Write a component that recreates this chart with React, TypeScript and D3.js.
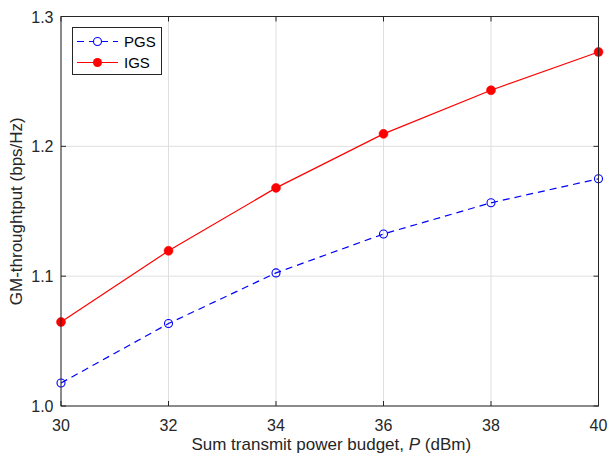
import React from "react";
import * as d3 from "d3";

const powerBudget = [30, 32, 34, 36, 38, 40];
const pgsThroughput = [1.0177, 1.0635, 1.1025, 1.1325, 1.1565, 1.175];
const igsThroughput = [1.0647, 1.1195, 1.168, 1.2096, 1.2432, 1.2727];
const xTicks = [30, 32, 34, 36, 38, 40];
const yTicks = [1.0, 1.1, 1.2, 1.3];

const W = 609;
const H = 459;
const M = { left: 61, right: 10.5, top: 16.5, bottom: 53 };
const FONT = "Liberation Sans, Arial, Helvetica, sans-serif";
const AXIS = "#262626";

export default function App() {
  const x = d3.scaleLinear().domain([30, 40]).range([M.left, W - M.right]);
  const y = d3.scaleLinear().domain([1.0, 1.3]).range([H - M.bottom, M.top]);
  const line = d3
    .line<[number, number]>()
    .x((d) => x(d[0]))
    .y((d) => y(d[1]));
  const pgs = powerBudget.map((p, i) => [p, pgsThroughput[i]] as [number, number]);
  const igs = powerBudget.map((p, i) => [p, igsThroughput[i]] as [number, number]);
  const x0 = x(30), x1 = x(40), y0 = y(1.0), y1 = y(1.3);

  return (
    <svg width={W} height={H} style={{ position: "absolute", left: 0, top: 0, background: "#fff" }} fontFamily={FONT}>
      <rect x={0} y={0} width={W} height={H} fill="#fff" />
      {/* grid */}
      {xTicks.map((t) => (
        <line key={"gx" + t} x1={x(t)} x2={x(t)} y1={y0} y2={y1} stroke="#dfdfdf" strokeWidth={1} />
      ))}
      {yTicks.map((t) => (
        <line key={"gy" + t} x1={x0} x2={x1} y1={y(t)} y2={y(t)} stroke="#dfdfdf" strokeWidth={1} />
      ))}
      {/* series */}
      <path d={line(pgs) || ""} fill="none" stroke="#0000ff" strokeWidth={1.2} strokeDasharray="7,5" />
      <path d={line(igs) || ""} fill="none" stroke="#ff0000" strokeWidth={1.2} />
      {pgs.map((d, i) => (
        <circle key={"p" + i} cx={x(d[0])} cy={y(d[1])} r={4} fill="none" stroke="#0000ff" strokeWidth={1.1} />
      ))}
      {igs.map((d, i) => (
        <circle key={"i" + i} cx={x(d[0])} cy={y(d[1])} r={4.5} fill="#ff0000" stroke="#ff0000" strokeWidth={0.5} />
      ))}
      {/* axes box */}
      <rect x={x0} y={y1} width={x1 - x0} height={y0 - y1} fill="none" stroke={AXIS} strokeWidth={1} />
      {xTicks.map((t) => (
        <g key={"tx" + t}>
          <line x1={x(t)} x2={x(t)} y1={y0} y2={y0 - 5} stroke={AXIS} />
          <line x1={x(t)} x2={x(t)} y1={y1} y2={y1 + 5} stroke={AXIS} />
          <text x={x(t)} y={y0 + 25} textAnchor="middle" fontSize={16} fill={AXIS}>
            {t}
          </text>
        </g>
      ))}
      {yTicks.map((t) => (
        <g key={"ty" + t}>
          <line x1={x0} x2={x0 + 5} y1={y(t)} y2={y(t)} stroke={AXIS} />
          <line x1={x1} x2={x1 - 5} y1={y(t)} y2={y(t)} stroke={AXIS} />
          <text x={x0 - 7.5} y={y(t) + 6} textAnchor="end" fontSize={16} fill={AXIS}>
            {t.toFixed(1)}
          </text>
        </g>
      ))}
      <text x={(x0 + x1) / 2 + 1.5} y={450} textAnchor="middle" fontSize={17} fill={AXIS}>
        Sum transmit power budget, <tspan fontStyle="italic">P</tspan> (dBm)
      </text>
      <text
        transform={`translate(22,${(y0 + y1) / 2}) rotate(-90)`}
        textAnchor="middle"
        fontSize={17}
        fill={AXIS}
      >
        GM-throughtput (bps/Hz)
      </text>
      {/* legend */}
      <g>
        <rect x={72.5} y={27.5} width={89} height={47} fill="#fff" stroke={AXIS} strokeWidth={1} />
        <line x1={77} x2={118} y1={41.5} y2={41.5} stroke="#0000ff" strokeWidth={1.2} strokeDasharray="7,5" />
        <circle cx={97.5} cy={41.5} r={4} fill="#fff" stroke="#0000ff" strokeWidth={1.1} />
        <text x={124} y={47} fontSize={15} fill="#000">PGS</text>
        <line x1={77} x2={118} y1={62.5} y2={62.5} stroke="#ff0000" strokeWidth={1.2} />
        <circle cx={97.5} cy={62.5} r={4.5} fill="#ff0000" />
        <text x={124} y={68} fontSize={15} fill="#000">IGS</text>
      </g>
    </svg>
  );
}
